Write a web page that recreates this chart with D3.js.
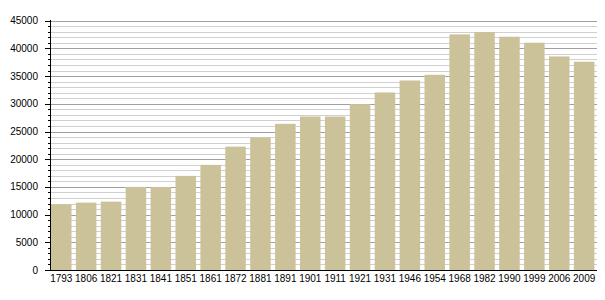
<!DOCTYPE html>
<html><head><meta charset="utf-8">
<script src="https://cdn.jsdelivr.net/npm/d3@7"></script>
<style>body{margin:0;background:#fff}svg{display:block}text{font-family:"Liberation Sans",Arial,sans-serif}</style>
</head><body>
<script>
const years = ["1793","1806","1821","1831","1841","1851","1861","1872","1881","1891","1901","1911","1921","1931","1946","1954","1968","1982","1990","1999","2006","2009"];
const population = [11870,12160,12340,15000,14980,16990,18980,22270,23920,26390,27710,27700,29940,32050,34210,35240,42530,42950,42110,41030,38550,37590];
const yTicks = [0,5000,10000,15000,20000,25000,30000,35000,40000,45000];

const W=605,H=300;
const svg=d3.select("body").append("svg").attr("width",W).attr("height",H);
const x=d3.scaleBand().domain(years).range([48.8,596.6]).paddingInner(0.176).paddingOuter(0.088);
const y=d3.scaleLinear().domain([0,45000]).range([270,20.7]);

const minor=d3.range(0,45001,1000);
svg.append("g").selectAll("line").data(minor).join("line")
  .attr("x1",50).attr("x2",597).attr("y1",d=>Math.round(y(d))+0.5).attr("y2",d=>Math.round(y(d))+0.5)
  .attr("stroke",d=>d%5000===0?"#a0a0a0":"#d0d0d0").attr("stroke-width",1);

svg.append("g").selectAll("rect").data(years).join("rect")
  .attr("x",d=>x(d)).attr("width",x.bandwidth())
  .attr("y",(d,i)=>y(population[i])).attr("height",(d,i)=>y(0)-y(population[i]))
  .attr("fill","#ccc29a");

// y axis
const ya=svg.append("g");
ya.append("line").attr("x1",50.5).attr("x2",50.5).attr("y1",20).attr("y2",270.5).attr("stroke","#000");
ya.selectAll("line.mn").data(minor).join("line").attr("class","mn")
  .attr("x1",d=>d%5000===0?45:48).attr("x2",50)
  .attr("y1",d=>Math.round(y(d))+0.5).attr("y2",d=>Math.round(y(d))+0.5).attr("stroke","#000");
ya.selectAll("text").data(yTicks).join("text")
  .attr("x",38).attr("y",d=>y(d)).attr("dy","0.35em").attr("text-anchor","end")
  .attr("font-size",10).attr("fill","#000").text(d=>d);

// x axis
svg.append("line").attr("x1",50).attr("x2",597).attr("y1",270.5).attr("y2",270.5).attr("stroke","#000");
svg.append("g").selectAll("text").data(years).join("text")
  .attr("x",d=>x(d)+x.bandwidth()/2).attr("y",282).attr("text-anchor","middle")
  .attr("font-size",10).attr("fill","#000").text(d=>d);
</script>
</body></html>
